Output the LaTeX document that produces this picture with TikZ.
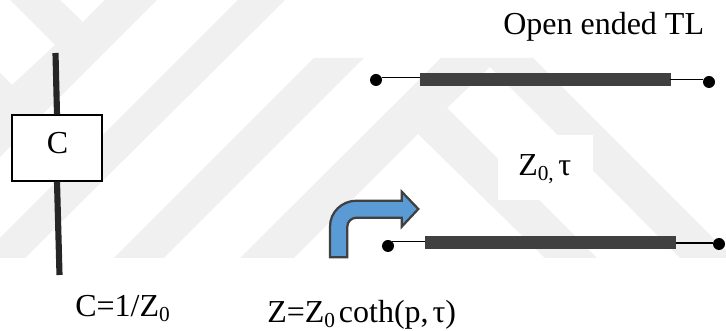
\documentclass[tikz,border=0pt]{standalone}
\usepackage{fontspec}
\setmainfont{Liberation Serif}
\tikzset{
  px/.style={x=0.75pt,y=-0.75pt},
  wm/.style={fill=wmgray,draw=none},
  lbl/.style={inner sep=0pt,font=\fontsize{24}{28}\selectfont,anchor=base west},
  tlbar/.style={draw=tlgray,fill=tlgray,line width=0.4pt,minimum width=187.5pt,minimum height=9pt,inner sep=0pt,rectangle},
  tlend/.style={circle,fill=black,minimum size=9pt,inner sep=0pt},
  wire/.style={line width=0.9pt,draw=black},
  stub/.style={line width=4.6pt,draw=stubgray},
}
\definecolor{wmgray}{HTML}{F0F0F0}
\definecolor{tlgray}{HTML}{404040}
\definecolor{stubgray}{HTML}{262626}
\definecolor{arrowblue}{HTML}{5B9BD5}
\newcommand{\subz}[1]{\textsubscript{\fontsize{16}{18}\selectfont #1}}
\begin{document}
\begin{tikzpicture}[px]
\useasboundingbox (0,0) rectangle (726,331);
\fill[white] (0,0) rectangle (726,331);
% watermark
\fill[wm] (10,0)--(60,0)--(83,22)--(105,0)--(157,0)--(0,157)--(0,73)--(12,85)--(55,45)--cycle;
\fill[wm] (238,0)--(285,0)--(25,258)--(0,258)--(0,238)--cycle;
\fill[wm] (314,58)--(364,58)--(164,258)--(114,258)--cycle;
\fill[wm] (240,258)--(441,58)--(533,58)--(726,251)--(726,258)--(680,258)--(490,67)--(447,108)--(597,258)--(545,258)--(418,134)--(294,258)--cycle;
\fill[white] (498,135) rectangle (593,200);
% capacitor branch
\node[draw=black,fill=white,line width=0.8pt,minimum width=67.5pt,minimum height=49.5pt,inner sep=0pt,rectangle] (box) at (57,148) {};
\node[inner sep=0pt,font=\fontsize{24}{28}\selectfont,anchor=base] (ctext) at (57.5,154) {C};
\coordinate (ctop) at (55.5,53);
\coordinate (cbot) at (59.5,275);
\draw[stub] (ctop) -- (box.north);
\draw[stub] (box.south) -- (cbot);
% upper line
\node[tlbar] (r1) at (545,79) {};
\node[tlend] (d1) at (376,80) {};
\node[tlend] (d2) at (709,82) {};
\draw[wire] (d1.20) -- (d1.20 -| r1.west);
\draw[wire] (r1.east |- d2.155) -- (d2.155);
% lower line
\node[tlbar] (r2) at (550.5,242) {};
\node[tlend] (d3) at (388,246) {};
\node[tlend] (d4) at (719,244) {};
\draw[wire] (d3.45) -- (d3.45 -| r2.west);
\draw[wire] (r2.east |- d4.170) -- (d4.170);
% bent arrow
\draw[fill=arrowblue,draw=tlgray,line width=1.7pt,miter limit=4]
  (330,257.3)--(330,226.7)..controls (330,212) and (342,200.7)..(356.7,200.7)
  --(401.7,200.7)--(401.7,191.7)--(418.3,209)--(401.7,226.7)--(401.7,217.7)
  --(356.7,217.7)..controls (351.5,217.7) and (347.3,221.5)..(347.3,226.7)--(347.3,257.3)--cycle;
% labels
\node[lbl] (t1) at (503,35) {Open ended TL};
\node[lbl] (t2) at (518,176) {Z\subz{0,}\kern0.12em τ};
\node[lbl] (t3) at (75,317) {C=1/Z\subz{0}};
\node[lbl] (t4) at (267,323) {Z=Z\subz{0}\kern0.1em coth(p,\kern0.12em τ)};
\end{tikzpicture}
\end{document}
